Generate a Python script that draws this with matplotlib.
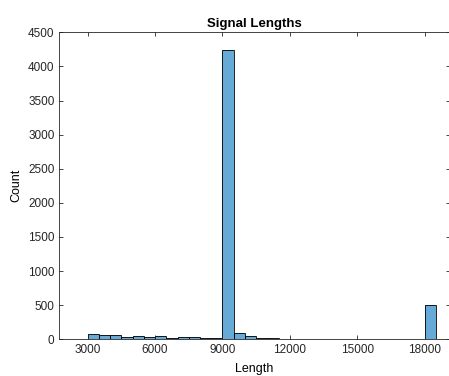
import numpy as np
import matplotlib
matplotlib.use("Agg")
import matplotlib.pyplot as plt

plt.rcParams['font.family'] = ['Liberation Sans', 'DejaVu Sans']

bin_starts = [3000, 3500, 4000, 4500, 5000, 5500, 6000, 6500, 7000, 7500,
              8000, 8500, 9000, 9500, 10000, 10500, 11000, 11500, 12000, 12500,
              13000, 13500, 14000, 14500, 15000, 15500, 16000, 16500, 17000, 17500,
              18000]
counts = [75, 60, 60, 35, 50, 35, 50, 25, 35, 35,
          25, 25, 4240, 90, 55, 25, 25, 10, 8, 8,
          8, 0, 8, 0, 8, 0, 0, 0, 0, 8,
          500]
bin_width = 500
xticks = [3000, 6000, 9000, 12000, 15000, 18000]
yticks = [0, 500, 1000, 1500, 2000, 2500, 3000, 3500, 4000, 4500]

fig = plt.figure(figsize=(4.49, 3.76), dpi=100)
ax = fig.add_axes([0.132, 0.0976, 0.870, 0.8165])

nz_x = [x for x, c in zip(bin_starts, counts) if c > 0]
nz_c = [c for c in counts if c > 0]

ax.bar(nz_x, nz_c, width=bin_width, align='edge',
       color=(0, 0.447, 0.741), alpha=0.6, edgecolor='none')
ax.bar(nz_x, nz_c, width=bin_width, align='edge',
       facecolor='none', edgecolor='black', linewidth=0.6)

ax.set_xlim(1732, 19130)
ax.set_ylim(0, 4500)
ax.set_xticks(xticks)
ax.set_yticks(yticks)
ax.tick_params(direction='in', length=3, width=0.6, colors='#262626',
               labelsize=8.5, top=True, right=True, labelcolor='#262626')
for s in ax.spines.values():
    s.set_color('#262626')
    s.set_linewidth(0.6)

ax.set_title('Signal Lengths', fontsize=9.5, fontweight='bold', pad=4)
ax.set_xlabel('Length', fontsize=9, labelpad=5)
ax.set_ylabel('Count', fontsize=9, labelpad=4)

fig.savefig('out.png', dpi=100)
